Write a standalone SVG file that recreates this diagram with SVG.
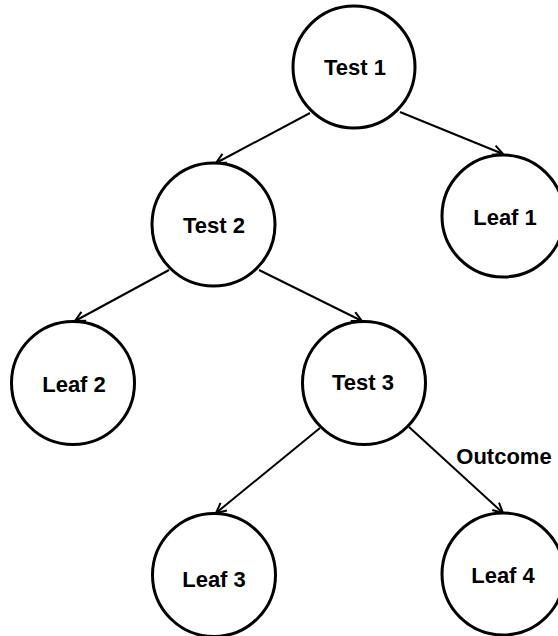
<svg xmlns="http://www.w3.org/2000/svg" width="558" height="636" viewBox="0 0 558 636">
  <style>
    .node circle { fill: #ffffff; stroke: #000000; stroke-width: 3; }
    .node text, .label { font-family: "Liberation Sans", Arial, sans-serif; font-weight: bold; font-size: 22px; fill: #000000; text-anchor: middle; }
    .edge { stroke: #000000; stroke-width: 2; fill: none; marker-end: url(#arrow); }
  </style>
  <defs>
    <marker id="arrow" viewBox="0 0 12 12" refX="11" refY="6" markerWidth="12" markerHeight="12" markerUnits="userSpaceOnUse" orient="auto">
      <path d="M1,1 L11,6 L1,11" fill="none" stroke="#000000" stroke-width="2"/>
    </marker>
  </defs>
  <rect x="0" y="0" width="558" height="636" fill="#ffffff"/>

  <g id="connectors">
    <line class="edge" x1="310" y1="113" x2="216" y2="163"/>
    <line class="edge" x1="400" y1="112" x2="503" y2="154"/>
    <line class="edge" x1="169" y1="270" x2="75" y2="321"/>
    <line class="edge" x1="259" y1="270" x2="362" y2="321"/>
    <line class="edge" x1="320" y1="428" x2="216" y2="513"/>
    <line class="edge" x1="409" y1="427" x2="503" y2="513"/>
    <text class="label" x="504" y="464">Outcome</text>
  </g>

  <g id="test1" class="node">
    <circle cx="354" cy="67" r="61"/>
    <text x="355" y="75">Test 1</text>
  </g>
  <g id="leaf1" class="node">
    <circle cx="503" cy="216" r="61"/>
    <text x="505" y="225">Leaf 1</text>
  </g>
  <g id="test2" class="node">
    <circle cx="213.5" cy="224.5" r="61.5"/>
    <text x="214" y="233">Test 2</text>
  </g>
  <g id="leaf2" class="node">
    <circle cx="73" cy="383" r="61.5"/>
    <text x="74" y="392">Leaf 2</text>
  </g>
  <g id="test3" class="node">
    <circle cx="364" cy="383" r="61.5"/>
    <text x="363" y="390">Test 3</text>
  </g>
  <g id="leaf3" class="node">
    <circle cx="214" cy="575" r="61.5"/>
    <text x="214" y="587">Leaf 3</text>
  </g>
  <g id="leaf4" class="node">
    <circle cx="503" cy="574" r="61"/>
    <text x="503" y="583">Leaf 4</text>
  </g>
</svg>
